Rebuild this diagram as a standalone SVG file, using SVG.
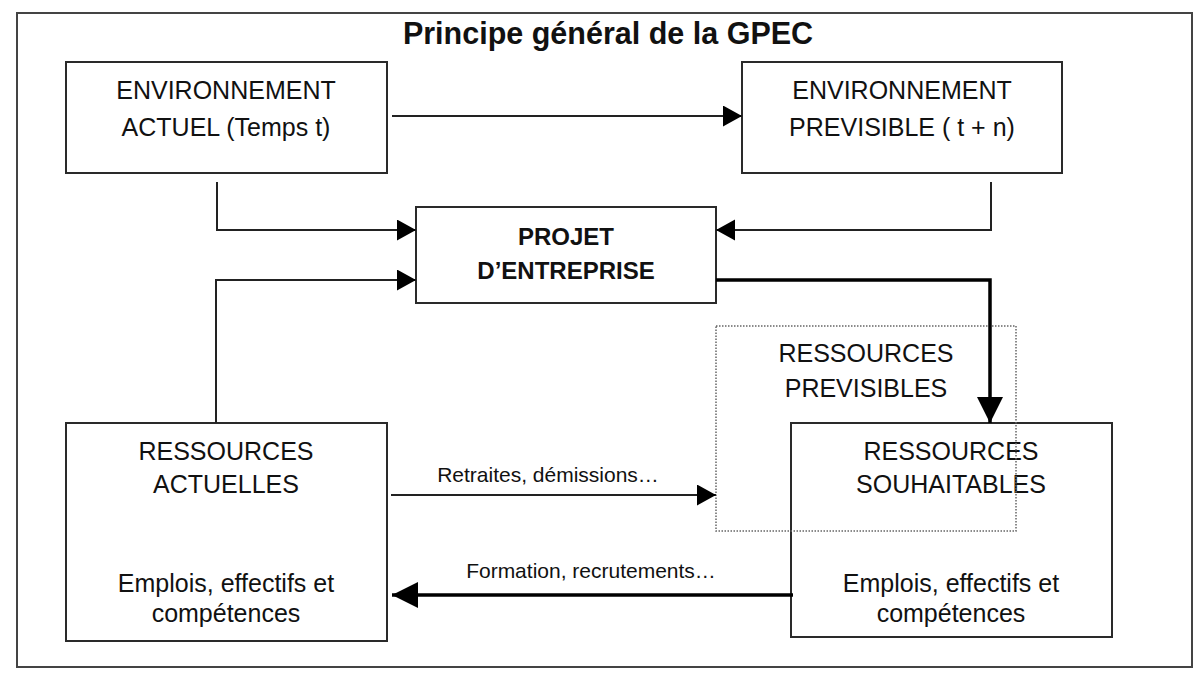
<svg xmlns="http://www.w3.org/2000/svg" width="1200" height="675" viewBox="0 0 1200 675">
<defs>
<style>
.box{fill:none;stroke:#2a2a2a;stroke-width:2}
.t{font-family:"Liberation Sans",Arial,sans-serif;font-size:25px;fill:#111;text-anchor:middle}
.b{font-weight:bold;font-size:24px}
.lbl{font-family:"Liberation Sans",Arial,sans-serif;font-size:21px;fill:#111;text-anchor:middle}
.thin{fill:none;stroke:#222;stroke-width:2;marker-end:url(#ah)}
.thick{fill:none;stroke:#000;stroke-width:3.5;marker-end:url(#ahb)}
</style>
<marker id="ah" markerUnits="userSpaceOnUse" markerWidth="20" markerHeight="22" refX="19" refY="10.5" orient="auto">
<path d="M0,0 L19,10.5 L0,21 Z" fill="#000"/>
</marker>
<marker id="ahb" markerUnits="userSpaceOnUse" markerWidth="27" markerHeight="27" refX="26" refY="13" orient="auto">
<path d="M0,0 L26,13 L0,26 Z" fill="#000"/>
</marker>
</defs>
<rect x="0" y="0" width="1200" height="675" fill="#fff"/>
<rect x="17" y="13" width="1175" height="654" fill="none" stroke="#444" stroke-width="2"/>
<text x="608" y="44" class="t" style="font-size:30.5px;font-weight:bold">Principe général de la GPEC</text>

<g id="env-actuel">
<rect class="box" x="66" y="62" width="321" height="111"/>
<text class="t" x="226" y="99">ENVIRONNEMENT</text>
<text class="t" x="226" y="136">ACTUEL (Temps t)</text>
</g>
<g id="env-previsible">
<rect class="box" x="742" y="62" width="320" height="111"/>
<text class="t" x="902" y="99">ENVIRONNEMENT</text>
<text class="t" x="902" y="136">PREVISIBLE ( t + n)</text>
</g>
<g id="projet">
<rect class="box" x="416" y="207" width="300" height="96"/>
<text class="t b" x="566" y="245">PROJET</text>
<text class="t b" x="566" y="279">D’ENTREPRISE</text>
</g>
<g id="ressources-actuelles">
<rect class="box" x="66" y="423" width="321" height="218"/>
<text class="t" x="226" y="460">RESSOURCES</text>
<text class="t" x="226" y="493">ACTUELLES</text>
<text class="t" x="226" y="592">Emplois, effectifs et</text>
<text class="t" x="226" y="622">compétences</text>
</g>
<g id="ressources-souhaitables">
<rect class="box" x="791" y="423" width="321" height="214"/>
<text class="t" x="951" y="460">RESSOURCES</text>
<text class="t" x="951" y="493">SOUHAITABLES</text>
<text class="t" x="951" y="592">Emplois, effectifs et</text>
<text class="t" x="951" y="622">compétences</text>
</g>
<g id="ressources-previsibles">
<rect x="716" y="326" width="300" height="205" fill="none" stroke="#666" stroke-width="1.5" stroke-dasharray="1.5 1.5"/>
<text class="t" x="866" y="362">RESSOURCES</text>
<text class="t" x="866" y="397">PREVISIBLES</text>
</g>

<g id="connectors">
<path class="thin" d="M392,116 H742"/>
<path class="thin" d="M217,182 V230 H416"/>
<path class="thin" d="M991,182 V230 H716"/>
<path class="thin" d="M216,423 V280 H416"/>
<path class="thick" d="M716,280 H990 V423"/>
<path class="thin" d="M391,495 H716"/>
<path class="thick" d="M793,595 H392"/>
<text class="lbl" x="548" y="482">Retraites, démissions…</text>
<text class="lbl" x="591" y="578">Formation, recrutements…</text>
</g>
</svg>
